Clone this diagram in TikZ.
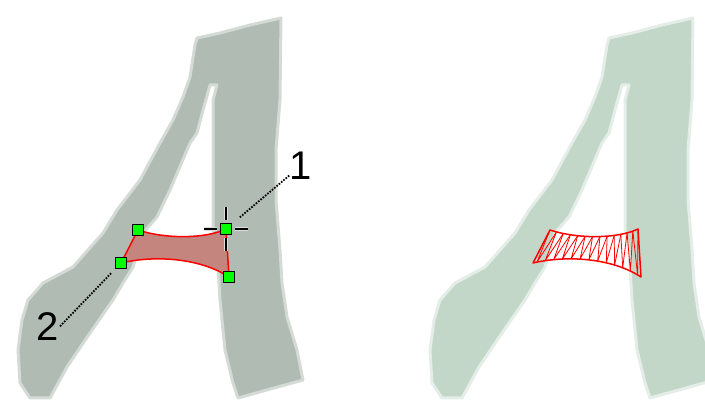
\documentclass[tikz,border=0pt]{standalone}
\usepackage{fontspec}
\setmainfont{Liberation Sans}
\usepackage{tikz}
\usetikzlibrary{arrows.meta}
\definecolor{glStroke}{HTML}{B0BBB3}
\definecolor{glStrokeEdge}{HTML}{D4DBD6}
\definecolor{glPale}{HTML}{C3D7C9}
\definecolor{glPaleEdge}{HTML}{E4EDE7}
\definecolor{glRegion}{HTML}{C4857F}
\definecolor{glRed}{HTML}{FF0000}
\definecolor{glHandle}{HTML}{00FF00}
\definecolor{glHalo}{HTML}{DCDCDC}
\newcommand{\glyphpath}{(197,38) -- (195,45) -- (190,77) -- (183,97) -- (173,120)
  -- (160,143) -- (140,180) -- (117,210) -- (103,233) -- (73,267) -- (43,283)
  -- (28,300) -- (22,320) -- (18,350) -- (20,383) -- (30,398) -- (50,398)
  -- (67,367) -- (90,333) -- (113,300) -- (123,283) -- (133,267) -- (143,233)
  -- (157,217) -- (170,190) -- (190,143) -- (197,133) -- (203,110) -- (210,85)
  -- (217,85) -- (213,100) -- (213,230) -- (217,250) -- (220,300) -- (225,350)
  -- (233,383) -- (238,398) -- (303,380) -- (297,350) -- (287,317) -- (282,283)
  -- (280,250) -- (276,200) -- (276,150) -- (280,100) -- (281,18)
  -- (250,25) -- (220,33) -- cycle}
\tikzset{
  gl diagram/.style={x=1pt, y=-1pt, line cap=butt, line join=round},
  gl letter/.style={draw=glStrokeEdge, fill=glStroke, line width=3pt},
  gl faded letter/.style={draw=glPaleEdge, fill=glPale, line width=3pt},
  gl region/.style={draw=glRed, fill=glRegion, line width=1.5pt},
  gl outline/.style={draw=glRed, line width=1.5pt},
  gl hatch/.style={draw=glRed, line width=0.8pt},
  gl handle/.style={draw=black, fill=glHandle, line width=1.2pt,
    minimum size=11pt, inner sep=0pt},
  gl cross halo/.style={draw=glHalo, line width=4.5pt},
  gl cross/.style={draw=black, line width=2.5pt},
  gl leader/.style={draw=black, line width=1.8pt, dash pattern=on 1.6pt off 1.4pt},
  gl label/.style={font=\fontsize{40}{40}\selectfont, inner sep=0pt}
}
\begin{document}
\begin{tikzpicture}[gl diagram]
\useasboundingbox (0,0) rectangle (705,406);
\draw[gl letter] \glyphpath;
\coordinate (c1) at (138,230);
\coordinate (c2) at (121,263);
\coordinate (c3) at (226,229);
\coordinate (c4) at (229,277);
\draw[gl region] (c1) .. controls (165,239) and (205,239) .. (c3)
  -- (c4) .. controls (200,258) and (155,255) .. (c2) -- cycle;
\foreach \dx/\dy/\len in {0/-1/13, 0/1/13, -1/0/13, 1/0/13} {
  \draw[gl cross halo] (c3) ++(9*\dx,9*\dy) -- ++(\len*\dx,\len*\dy);
  \draw[gl cross] (c3) ++(9*\dx,9*\dy) -- ++(\len*\dx,\len*\dy);
}
\node[gl handle] (p1) at (c1) {};
\node[gl handle] (p2) at (c2) {};
\node[gl handle] (p3) at (c3) {};
\node[gl handle] (p4) at (c4) {};
\node[gl label] (one) at (300.5,166) {1};
\node[gl label] (two) at (48,327) {2};
\draw[gl leader, shorten >=9pt] (one) -- (p3);
\draw[gl leader, shorten <=1pt, shorten >=5pt] (two.east) -- (p2);
\begin{scope}[xshift=412pt]
\draw[gl faded letter] \glyphpath;
\coordinate (r1) at (138,230);
\coordinate (r2) at (121,263);
\coordinate (r3) at (226,229);
\coordinate (r4) at (229,277);
\foreach \i in {1,...,13} {
  \path (r1) .. controls (165,239) and (205,239) .. (r3)
    coordinate[pos=(\i-1)/13] (ta) coordinate[pos=\i/13] (tb);
  \path (r2) .. controls (155,255) and (200,258) .. (r4)
    coordinate[pos=(\i-0.5)/13] (bm);
  \draw[gl hatch] (ta) -- (bm) -- (tb);
}
\draw[gl outline] (r1) .. controls (165,239) and (205,239) .. (r3)
  -- (r4) .. controls (200,258) and (155,255) .. (r2) -- cycle;
\end{scope}
\end{tikzpicture}
\end{document}
